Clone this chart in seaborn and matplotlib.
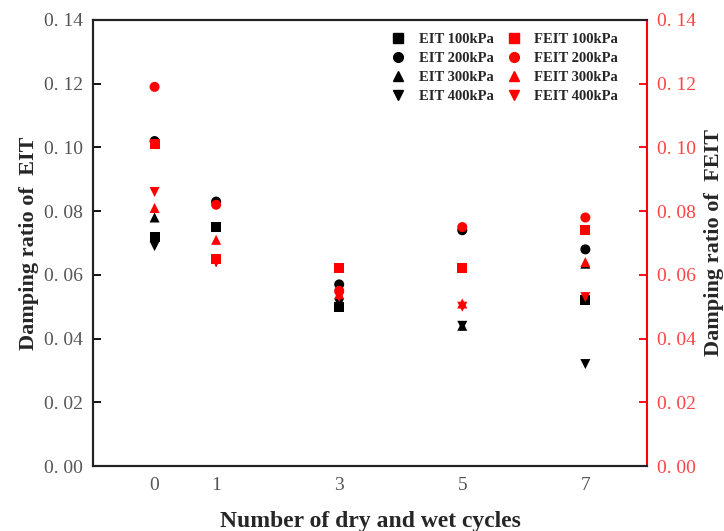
import matplotlib
matplotlib.use("Agg")
import matplotlib.pyplot as plt
import seaborn as sns
import pandas as pd
from matplotlib.lines import Line2D

cycles = [0, 1, 3, 5, 7]
pressures = ["100kPa", "200kPa", "300kPa", "400kPa"]

eit_100 = [0.072, 0.075, 0.050, 0.062, 0.052]
eit_200 = [0.102, 0.083, 0.057, 0.074, 0.068]
eit_300 = [0.078, 0.065, 0.050, 0.044, 0.0635]
eit_400 = [0.069, 0.064, 0.051, 0.044, 0.032]

feit_100 = [0.101, 0.065, 0.062, 0.062, 0.074]
feit_200 = [0.119, 0.082, 0.055, 0.075, 0.078]
feit_300 = [0.081, 0.071, 0.054, 0.051, 0.064]
feit_400 = [0.086, 0.064, 0.053, 0.050, 0.053]

y_ticks = [0.00, 0.02, 0.04, 0.06, 0.08, 0.10, 0.12, 0.14]
y_tick_labels = ["0. 00", "0. 02", "0. 04", "0. 06", "0. 08", "0. 10", "0. 12", "0. 14"]

markers = {"100kPa": "s", "200kPa": "o", "300kPa": "^", "400kPa": "v"}

def long_df(series_list):
    rows = []
    for p, vals in zip(pressures, series_list):
        for c, v in zip(cycles, vals):
            rows.append({"cycle": c, "ratio": v, "pressure": p})
    return pd.DataFrame(rows)

eit_df = long_df([eit_100, eit_200, eit_300, eit_400])
feit_df = long_df([feit_100, feit_200, feit_300, feit_400])

sns.set_style("white")
plt.rcParams["font.family"] = ["Liberation Serif", "DejaVu Serif"]

fig = plt.figure(figsize=(7.24, 5.31), dpi=100)
ax = fig.add_axes([0.1285, 0.1224, 0.765, 0.84])
ax2 = ax.twinx()

sns.scatterplot(data=eit_df, x="cycle", y="ratio", style="pressure", markers=markers,
                color="black", s=52, edgecolor="none", ax=ax, legend=False, zorder=3)
sns.scatterplot(data=feit_df, x="cycle", y="ratio", style="pressure", markers=markers,
                color="#ff0000", s=52, edgecolor="none", ax=ax2, legend=False, zorder=3)

for a in (ax, ax2):
    a.set_ylim(0, 0.14)
    a.set_yticks(y_ticks)
    a.set_yticklabels(y_tick_labels)
    a.set_xlim(-1, 8)
ax.set_xticks(cycles)
ax.set_xticklabels([str(c) for c in cycles])

ax.tick_params(axis="both", direction="in", length=6, width=1.3, labelsize=14,
               colors="black", labelcolor="#555555", pad=7)
ax.tick_params(axis="x", pad=8)
ax2.tick_params(axis="y", direction="in", length=6, width=1.3, labelsize=14,
                colors="#ff0000", labelcolor="#ff4444", pad=7)

for name in ["left", "bottom", "top"]:
    ax.spines[name].set_color("#222222")
    ax.spines[name].set_linewidth(1.5)
    ax2.spines[name].set_color("#222222")
    ax2.spines[name].set_linewidth(1.5)
ax2.spines["right"].set_color("#ff0000")
ax2.spines["right"].set_linewidth(1.5)
ax.spines["right"].set_visible(False)

ax.set_xlabel("Number of dry and wet cycles", fontsize=17, fontweight="bold", labelpad=12)
ax.set_ylabel("Damping ratio of  EIT", fontsize=16, fontweight="bold", labelpad=4)
ax2.set_ylabel("Damping ratio of  FEIT", fontsize=16, fontweight="bold", labelpad=6)

handles = []
labels = []
for p in pressures:
    handles.append(Line2D([], [], marker=markers[p], color="black", linestyle="none", markersize=7))
    labels.append("EIT " + p)
for p in pressures:
    handles.append(Line2D([], [], marker=markers[p], color="#ff0000", linestyle="none", markersize=7))
    labels.append("FEIT " + p)
leg = ax2.legend(handles, labels, ncol=2, loc="upper right", frameon=False,
                 prop={"weight": "bold", "size": 10.5}, handletextpad=0.8,
                 columnspacing=0.8, labelspacing=0.4, handlelength=1.2,
                 bbox_to_anchor=(0.972, 1.0))

fig.savefig("out.png", dpi=100)
